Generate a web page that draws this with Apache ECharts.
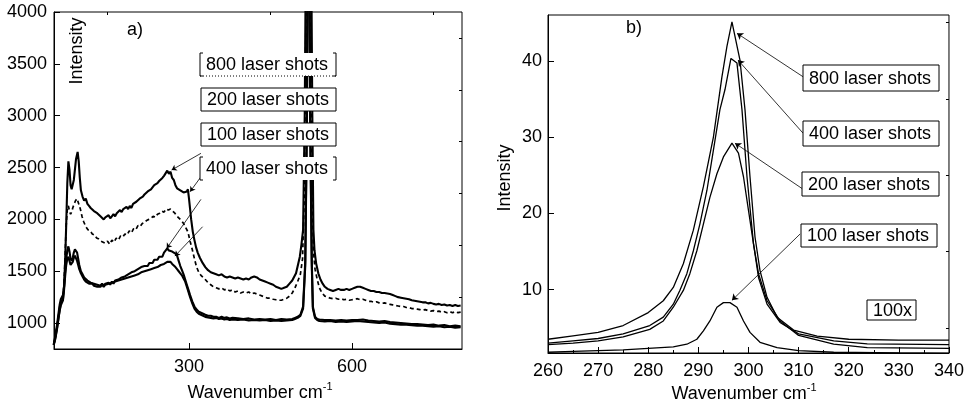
<!DOCTYPE html>
<html>
<head>
<meta charset="utf-8">
<script src="https://cdn.jsdelivr.net/npm/echarts@6/dist/echarts.min.js"></script>
<style>
  html, body { margin: 0; padding: 0; background: #fff; }
  #chart { width: 967px; height: 409px; }
</style>
</head>
<body>
<div id="chart"></div>
<script>
// panel a) raman spectra, [wavenumber, intensity]
var a800 = [[51,790],[54,880],[57,980],[60,1100],[62,1180],[64,1230],[66,1220],[68,1270],[70,1350],[72,1600],[74,1950],[76,2350],[78,2560],[80,2480],[82,2330],[84,2290],[86,2300],[88,2380],[90,2480],[92,2580],[95,2650],[97,2560],[99,2400],[101,2280],[104,2220],[107,2180],[110,2200],[113,2150],[116,2130],[119,2110],[122,2120],[125,2080],[128,2090],[131,2060],[134,2070],[137,2030],[140,2040],[143,2000],[146,2020],[149,2010],[152,2040],[155,2010],[158,2030],[161,2050],[164,2030],[167,2060],[170,2050],[173,2090],[176,2070],[179,2100],[182,2090],[185,2120],[188,2100],[191,2130],[194,2110],[197,2150],[200,2140],[203,2170],[206,2160],[209,2200],[212,2190],[215,2220],[218,2240],[221,2230],[224,2270],[227,2260],[230,2290],[233,2300],[236,2330],[239,2320],[242,2350],[245,2370],[248,2360],[251,2400],[254,2420],[257,2410],[260,2470],[263,2440],[266,2460],[269,2400],[272,2380],[275,2330],[278,2300],[281,2300],[284,2280],[287,2270],[290,2260],[293,2250],[296,2270],[298,2290],[300,2200],[302,2100],[304,2000],[307,1880],[310,1800],[313,1730],[316,1680],[320,1630],[325,1580],[330,1540],[335,1510],[340,1490],[345,1480],[350,1470],[355,1460],[360,1470],[365,1450],[370,1440],[375,1450],[380,1440],[385,1430],[390,1440],[395,1430],[400,1420],[405,1430],[410,1420],[415,1440],[420,1450],[425,1440],[430,1420],[435,1410],[440,1400],[445,1390],[450,1380],[455,1370],[460,1350],[465,1340],[470,1330],[475,1340],[480,1350],[485,1380],[490,1410],[497,1480],[504,1640],[507,1760],[510,1900],[513,3000],[515,4500],[520,7000],[525,4500],[527,3000],[529,1900],[531,1700],[534,1576],[538,1480],[542,1420],[546,1380],[550,1350],[555,1330],[560,1320],[565,1310],[570,1320],[575,1330],[580,1320],[585,1320],[590,1330],[595,1320],[600,1330],[605,1340],[610,1350],[615,1350],[620,1340],[625,1330],[630,1320],[635,1310],[640,1310],[645,1300],[650,1300],[655,1290],[660,1290],[665,1285],[670,1280],[675,1270],[680,1260],[685,1250],[690,1245],[695,1240],[700,1235],[705,1230],[710,1220],[715,1215],[720,1210],[725,1205],[730,1200],[735,1200],[740,1190],[745,1195],[750,1185],[755,1180],[760,1185],[765,1175],[770,1180],[775,1170],[780,1175],[785,1165],[790,1175],[795,1165],[800,1170]];
var a200 = [[51,790],[54,870],[57,960],[60,1080],[62,1160],[64,1200],[66,1190],[68,1250],[70,1380],[72,1650],[74,1950],[76,2100],[78,2130],[80,2080],[82,2050],[84,2070],[86,2110],[88,2140],[91,2180],[94,2200],[97,2190],[100,2100],[103,2030],[106,1980],[110,1930],[114,1900],[118,1890],[122,1860],[126,1850],[130,1820],[134,1810],[138,1790],[142,1780],[146,1770],[150,1790],[154,1760],[158,1800],[162,1780],[166,1820],[170,1800],[174,1840],[178,1830],[182,1860],[186,1850],[190,1890],[194,1870],[198,1910],[202,1900],[206,1940],[210,1930],[214,1960],[218,1970],[222,1990],[226,2000],[230,2010],[234,2030],[238,2020],[242,2050],[246,2060],[250,2080],[254,2070],[258,2100],[262,2090],[266,2100],[270,2080],[274,2060],[278,2030],[282,2010],[286,1990],[290,1960],[294,1920],[298,1880],[302,1790],[306,1710],[310,1620],[314,1540],[318,1490],[322,1460],[326,1440],[330,1420],[335,1390],[340,1370],[345,1350],[350,1340],[355,1330],[360,1340],[365,1320],[370,1330],[375,1310],[380,1320],[385,1300],[390,1310],[395,1290],[400,1300],[405,1290],[410,1300],[415,1280],[420,1290],[425,1280],[430,1270],[435,1260],[440,1250],[445,1240],[450,1240],[455,1230],[460,1225],[465,1220],[470,1220],[475,1230],[480,1240],[485,1260],[490,1290],[495,1340],[500,1400],[505,1470],[509,1620],[512,2200],[515,3800],[520,7000],[524,3800],[527,2200],[529,1700],[532,1520],[536,1420],[540,1340],[545,1290],[550,1260],[555,1250],[560,1240],[565,1235],[570,1240],[575,1230],[580,1235],[585,1225],[590,1230],[595,1220],[600,1225],[605,1230],[610,1235],[615,1225],[620,1230],[625,1220],[630,1210],[635,1210],[640,1200],[645,1205],[650,1195],[655,1190],[660,1195],[665,1185],[670,1180],[675,1175],[680,1170],[685,1165],[690,1160],[695,1160],[700,1150],[705,1150],[710,1140],[715,1140],[720,1135],[725,1130],[730,1125],[735,1130],[740,1120],[745,1115],[750,1120],[755,1110],[760,1115],[765,1105],[770,1110],[775,1100],[780,1110],[785,1100],[790,1110],[795,1100],[800,1105]];
var a400 = [[51,790],[54,860],[57,950],[60,1060],[62,1130],[64,1190],[66,1180],[68,1230],[70,1350],[72,1500],[74,1620],[76,1700],[78,1740],[80,1690],[82,1620],[84,1600],[86,1630],[88,1680],[90,1710],[92,1720],[94,1680],[96,1620],[98,1560],[101,1500],[104,1470],[107,1440],[110,1430],[113,1410],[116,1400],[119,1390],[122,1400],[125,1380],[128,1390],[131,1370],[134,1380],[137,1360],[140,1380],[143,1360],[146,1380],[149,1370],[152,1390],[155,1370],[158,1400],[161,1380],[164,1410],[167,1400],[170,1420],[173,1410],[176,1440],[179,1430],[182,1450],[185,1440],[188,1470],[191,1460],[194,1490],[197,1480],[200,1500],[203,1490],[206,1520],[209,1510],[212,1540],[215,1530],[218,1550],[221,1560],[224,1550],[227,1580],[230,1590],[233,1580],[236,1610],[239,1620],[242,1610],[245,1640],[248,1650],[251,1640],[254,1680],[257,1690],[260,1720],[263,1700],[266,1710],[269,1690],[272,1700],[275,1670],[278,1650],[281,1600],[284,1550],[287,1510],[290,1470],[293,1420],[296,1370],[299,1320],[302,1270],[306,1210],[310,1160],[314,1130],[318,1110],[322,1100],[326,1090],[330,1080],[335,1070],[340,1070],[345,1060],[350,1060],[355,1050],[360,1060],[365,1050],[370,1055],[375,1045],[380,1050],[390,1045],[400,1040],[410,1045],[420,1035],[430,1040],[440,1035],[450,1040],[460,1030],[470,1040],[480,1035],[490,1040],[495,1050],[500,1060],[505,1080],[510,1158],[514,1600],[517,3000],[519,5500],[520,7000],[521,5500],[523,3000],[526,1600],[528,1158],[532,1061],[536,1040],[540,1035],[550,1030],[560,1030],[570,1025],[580,1030],[590,1025],[600,1030],[610,1030],[620,1035],[630,1025],[640,1020],[650,1015],[660,1020],[670,1010],[680,1005],[690,1000],[700,995],[710,990],[720,990],[730,985],[740,980],[750,985],[760,975],[770,980],[780,970],[790,975],[800,970]];
var a100 = [[51,790],[54,850],[57,940],[60,1050],[62,1120],[64,1170],[66,1160],[68,1220],[70,1320],[72,1450],[74,1560],[76,1620],[78,1640],[80,1600],[82,1560],[84,1560],[86,1590],[88,1630],[90,1650],[92,1640],[94,1600],[96,1560],[98,1520],[101,1480],[104,1450],[107,1420],[110,1400],[113,1390],[116,1380],[119,1370],[122,1380],[125,1360],[128,1370],[131,1350],[134,1360],[137,1350],[140,1370],[143,1350],[146,1370],[149,1360],[152,1380],[155,1370],[158,1390],[161,1380],[164,1400],[167,1390],[170,1410],[173,1400],[176,1420],[179,1410],[182,1430],[185,1420],[188,1440],[191,1430],[194,1450],[197,1440],[200,1460],[203,1450],[206,1470],[209,1460],[212,1490],[215,1480],[218,1500],[221,1490],[224,1510],[227,1500],[230,1520],[233,1510],[236,1530],[239,1530],[242,1540],[245,1550],[248,1560],[251,1560],[254,1570],[257,1580],[260,1590],[263,1580],[266,1590],[269,1570],[272,1560],[275,1540],[278,1520],[281,1500],[284,1480],[287,1460],[290,1430],[293,1400],[296,1350],[299,1300],[302,1250],[306,1190],[310,1140],[314,1110],[318,1090],[322,1080],[326,1070],[330,1060],[335,1055],[340,1050],[345,1045],[350,1050],[355,1040],[360,1045],[365,1035],[370,1040],[375,1030],[380,1035],[390,1030],[400,1035],[410,1025],[420,1030],[430,1025],[440,1030],[450,1020],[460,1025],[470,1020],[480,1025],[490,1030],[495,1040],[500,1050],[505,1070],[510,1140],[514,1550],[517,2900],[519,5200],[520,6500],[521,5200],[523,2900],[526,1550],[528,1140],[532,1050],[536,1030],[540,1020],[550,1015],[560,1020],[570,1010],[580,1015],[590,1010],[600,1015],[610,1020],[620,1015],[630,1010],[640,1005],[650,1000],[660,1005],[670,995],[680,990],[690,985],[700,985],[710,980],[720,975],[730,975],[740,970],[750,965],[760,970],[770,960],[780,965],[790,955],[800,960]];

// panel b) fitted peaks around 296 cm-1
var b800 = [[260,3.5],[265,3.95],[270,4.4],[275,5.3],[280,7.0],[283,8.55],[285,10.3],[287,13.4],[289,17.8],[291,23.5],[293,30.0],[294.7,37.9],[295.7,41.9],[296.7,45.1],[298.3,40.1],[299.3,33.6],[300.3,24.8],[301.3,16.9],[302.3,12.5],[303.7,9.0],[305.7,6.4],[309,4.7],[313.7,3.9],[320,3.5],[330,3.4],[340,3.4]];
var b400 = [[260,3.0],[265,3.3],[270,3.6],[275,4.2],[280.3,5.3],[283,6.4],[285,8.1],[286.3,9.9],[287.7,12.1],[289,15.1],[290.3,18.6],[291.7,23.0],[293,28.3],[294.3,33.6],[295.3,36.2],[296.5,40.3],[297.7,39.7],[298.7,33.6],[299.7,24.8],[301,16.0],[302,11.6],[303.7,8.1],[306.3,5.7],[310,4.2],[317,3.3],[323.7,2.9],[340,2.8]];
var b200 = [[260,2.8],[265,3.0],[270,3.3],[275,3.8],[280.3,4.8],[283,5.9],[285,7.7],[287,9.9],[288.3,12.1],[289.7,15.1],[291,18.6],[292.3,22.1],[293.7,25.2],[295,27.4],[296.7,29.2],[298,27.9],[299,24.8],[300,20.4],[301,16.0],[302,12.1],[303.7,8.55],[306.3,5.9],[310,4.0],[317,2.85],[323.7,2.4],[340,2.3]];
var b100 = [[260,1.8],[265,1.9],[270,2.0],[275,2.1],[280,2.3],[285,2.5],[287.7,2.85],[289.7,3.5],[291,4.6],[292.3,5.9],[293.7,7.7],[295,8.3],[296.3,8.3],[297.7,7.7],[299,5.9],[300.3,4.4],[302.3,3.1],[305.7,2.4],[310,2.0],[317,1.8],[330,1.7],[340,1.65]];

// tick positions
var aXMajor = [300, 600];
var aXMinor = [150, 450, 750];
var aYMajor = [1000, 1500, 2000, 2500, 3000, 3500, 4000];
var aYMinor = [1250, 1750, 2250, 2750, 3250, 3750];
var bYMajor = [10, 20, 30, 40];
var bYMinor = [5, 15, 25, 35, 45];

// arrow ends, from box edge to curve
var aArrows = [[[322, 2637], [268, 2476]], [[322, 2411], [302, 2267]], [[322, 2193], [259, 1721]], [[325, 1929], [274, 1646]]];
var bArrows = [[[310.9, 37.9], [297.7, 43.6]], [[310.9, 30.5], [297.9, 40.1]], [[310.7, 23.25], [297.3, 29.2]], [[310.3, 17.3], [296.7, 8.6]]];

var FONT = 'Liberation Sans, Arial, sans-serif';
var myChart = echarts.init(document.getElementById('chart'));

function plain(v) {
  return String(v);
}

function valAxis(gridIndex, min, max, opts) {
  var ax = {
    type: 'value',
    gridIndex: gridIndex,
    min: min,
    max: max,
    splitLine: { show: false },
    axisLine: { show: true, onZero: false, lineStyle: { color: '#000', width: 1 } },
    axisTick: { show: true, inside: true, length: 6, lineStyle: { color: '#000' } },
    axisLabel: { color: '#000', fontSize: 18, fontFamily: FONT, formatter: plain }
  };
  return Object.assign(ax, opts || {});
}

function boxText(x, y, w, h, txt, border) {
  var els = [{
    type: 'rect', z: 100,
    shape: { x: x, y: y, width: w, height: h },
    style: { fill: '#fff', stroke: border ? '#000' : null, lineWidth: 1 }
  }, {
    type: 'text', z: 101, x: x + 6, y: y + h / 2 + 1,
    style: { text: txt, fill: '#000', font: '18px ' + FONT, verticalAlign: 'middle' }
  }];
  return els;
}

function bracket(x, y, w, h, dottedBottom) {
  var els = [
    { type: 'polyline', z: 102, shape: { points: [[x + 3, y], [x, y], [x, y + h], [x + 3, y + h]] }, style: { stroke: '#000', lineWidth: 1, fill: null } },
    { type: 'polyline', z: 102, shape: { points: [[x + w - 3, y], [x + w, y], [x + w, y + h], [x + w - 3, y + h]] }, style: { stroke: '#000', lineWidth: 1, fill: null } }
  ];
  if (dottedBottom) {
    els.push({ type: 'line', z: 102, shape: { x1: x, y1: y + h, x2: x + w, y2: y + h }, style: { stroke: '#000', lineWidth: 1, lineDash: [1, 2] } });
  }
  return els;
}

function arrowLines(list, size) {
  return list.map(function (p) {
    return [{ coord: p[0], symbol: 'none' }, { coord: p[1], symbol: 'arrow', symbolSize: size }];
  });
}

function wavenumber(cx, cy) {
  return {
    type: 'text', z: 100, x: cx, y: cy,
    style: {
      text: '{m|Wavenumber cm}{s|-1}',
      align: 'center', verticalAlign: 'middle',
      rich: {
        m: { fontSize: 18, fontFamily: FONT, fill: '#000', verticalAlign: 'bottom' },
        s: { fontSize: 11, fontFamily: FONT, fill: '#000', verticalAlign: 'top', padding: [0, 0, 10, 0] }
      }
    }
  };
}

var graphics = []
  .concat(boxText(200, 53, 136, 23, '800 laser shots', false))
  .concat(bracket(200, 53, 136, 23, true))
  .concat(boxText(201, 88, 135, 23, '200 laser shots', true))
  .concat(boxText(201, 123, 135, 23, '100 laser shots', true))
  .concat(boxText(200, 157, 136, 23, '400 laser shots', false))
  .concat(bracket(200, 157, 136, 23, false))
  .concat(boxText(803, 65, 136, 26, '800 laser shots', true))
  .concat(boxText(803, 121, 136, 25, '400 laser shots', true))
  .concat(boxText(802, 172, 137, 24, '200 laser shots', true))
  .concat(boxText(801, 224, 136, 23, '100 laser shots', true))
  .concat(boxText(867, 300, 49, 20, '100x', true))
  .concat([
    { type: 'text', z: 100, x: 135, y: 30, style: { text: 'a)', font: '18px ' + FONT, fill: '#000', align: 'center', verticalAlign: 'middle' } },
    { type: 'text', z: 100, x: 634, y: 28, style: { text: 'b)', font: '18px ' + FONT, fill: '#000', align: 'center', verticalAlign: 'middle' } },
    { type: 'text', z: 100, x: 77, y: 51, rotation: Math.PI / 2, style: { text: 'Intensity', font: '18px ' + FONT, fill: '#000', align: 'center', verticalAlign: 'middle' } },
    { type: 'text', z: 100, x: 505, y: 178, rotation: Math.PI / 2, style: { text: 'Intensity', font: '18px ' + FONT, fill: '#000', align: 'center', verticalAlign: 'middle' } },
    wavenumber(260, 392),
    wavenumber(744, 393)
  ]);

function lineSeries(name, data, xi, yi, width, dash) {
  return {
    name: name, type: 'line', xAxisIndex: xi, yAxisIndex: yi,
    data: data, symbol: 'none', smooth: false, clip: true,
    lineStyle: { color: '#000', width: width, type: dash || 'solid' },
    silent: true
  };
}

var sA800 = lineSeries('800 laser shots', a800, 0, 0, 2.1);
sA800.markLine = {
  silent: true, animation: false, label: { show: false },
  lineStyle: { color: '#000', width: 0.8, type: 'solid' },
  data: arrowLines(aArrows, 5)
};
var sB800 = lineSeries('800 laser shots', b800, 2, 2, 1.3);
sB800.markLine = {
  silent: true, animation: false, label: { show: false },
  lineStyle: { color: '#000', width: 0.8, type: 'solid' },
  data: arrowLines(bArrows, 6)
};

var option = {
  animation: false,
  backgroundColor: '#fff',
  grid: [
    { left: 54, top: 12, width: 408, height: 337, show: true, borderColor: '#000', borderWidth: 1 },
    { left: 548, top: 15, width: 401, height: 338, show: true, borderColor: '#000', borderWidth: 1 }
  ],
  xAxis: [
    valAxis(0, 51.5, 802.5, {
      axisTick: { show: true, inside: true, length: 6, customValues: aXMajor, lineStyle: { color: '#000' } },
      axisLabel: { color: '#000', fontSize: 18, fontFamily: FONT, margin: 9, customValues: aXMajor, formatter: plain }
    }),
    valAxis(0, 51.5, 802.5, {
      axisLine: { show: false },
      axisTick: { show: true, inside: true, length: 3, customValues: aXMinor, lineStyle: { color: '#000' } },
      axisLabel: { show: false }
    }),
    valAxis(1, 260, 340, {
      interval: 10,
      minorTick: { show: true, splitNumber: 2, length: 3, lineStyle: { color: '#000' } },
      axisLabel: { color: '#000', fontSize: 18, fontFamily: FONT, margin: 9, formatter: plain }
    })
  ],
  yAxis: [
    valAxis(0, 750, 4000, {
      axisTick: { show: true, inside: true, length: 6, customValues: aYMajor, lineStyle: { color: '#000' } },
      axisLabel: { color: '#000', fontSize: 18, fontFamily: FONT, margin: 7, customValues: aYMajor, formatter: plain }
    }),
    valAxis(0, 750, 4000, {
      axisLine: { show: false },
      axisTick: { show: true, inside: true, length: 3, customValues: aYMinor, lineStyle: { color: '#000' } },
      axisLabel: { show: false }
    }),
    valAxis(1, 1.7, 46, {
      axisTick: { show: true, inside: true, length: 6, customValues: bYMajor, lineStyle: { color: '#000' } },
      axisLabel: { color: '#000', fontSize: 18, fontFamily: FONT, margin: 6, customValues: bYMajor, formatter: plain }
    }),
    valAxis(1, 1.7, 46, {
      axisLine: { show: false },
      axisTick: { show: true, inside: true, length: 3, customValues: bYMinor, lineStyle: { color: '#000' } },
      axisLabel: { show: false }
    })
  ],
  series: [
    sA800,
    lineSeries('200 laser shots', a200, 0, 0, 1.7, [4, 3]),
    lineSeries('400 laser shots', a400, 0, 0, 2.1),
    lineSeries('100 laser shots', a100, 0, 0, 2.1),
    sB800,
    lineSeries('400 laser shots', b400, 2, 2, 1.3),
    lineSeries('200 laser shots', b200, 2, 2, 1.3),
    lineSeries('100 laser shots', b100, 2, 2, 1.3)
  ],
  graphic: graphics
};

myChart.setOption(option);
</script>
</body>
</html>
